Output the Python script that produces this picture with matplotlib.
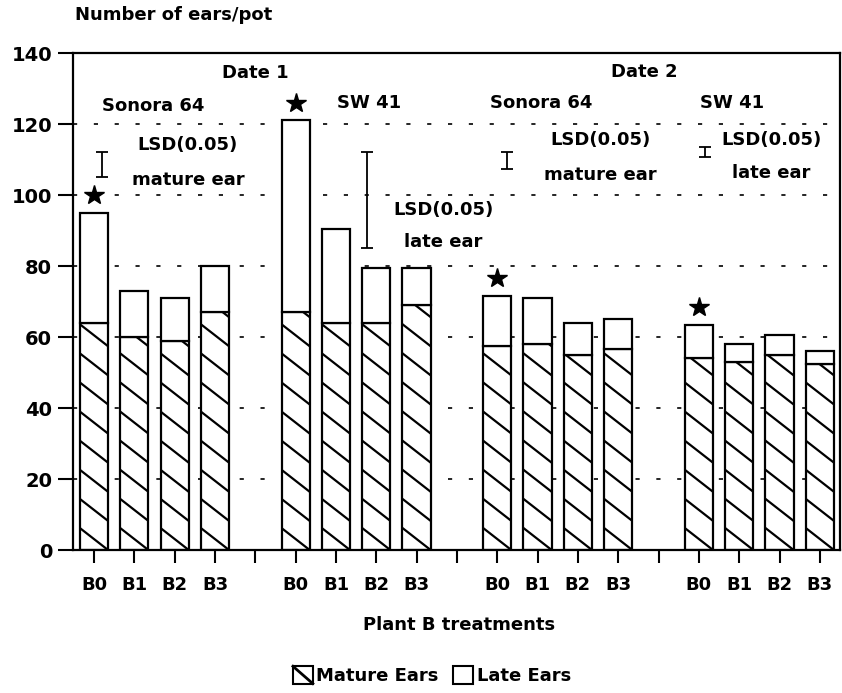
import numpy as np
import matplotlib.pyplot as plt
from matplotlib.lines import Line2D
from matplotlib.patches import Patch, Rectangle
from matplotlib.legend_handler import HandlerBase

plt.rcParams["font.family"] = ["DejaVu Sans"]
plt.rcParams["font.weight"] = "bold"

# ears per pot, mature (hatched) and late (open) stacked on top
treatments = ["B0", "B1", "B2", "B3"]
mature_d1_sonora = [64, 60, 59, 67]
mature_d1_sw41 = [67, 64, 64, 69]
mature_d2_sonora = [57.5, 58, 55, 56.5]
mature_d2_sw41 = [54, 53, 55, 52.5]
late_d1_sonora = [31, 13, 12, 13]
late_d1_sw41 = [54, 26.5, 15.5, 10.5]
late_d2_sonora = [14, 13, 9, 8.5]
late_d2_sw41 = [9.5, 5, 5.5, 3.5]

# LSD(0.05) bars: value and the top of each bar
lsd_values = [7, 27, 4.6, 2.8]
lsd_tops = [112, 112, 112, 113.5]
lsd_x = [0.2, 6.77, 10.25, 15.14]

group_start = [0, 5, 10, 15]
star_bars = [0, 4, 8, 12]   # B0 of each cultivar/date
bar_w = 0.7

mature = np.concatenate([mature_d1_sonora, mature_d1_sw41, mature_d2_sonora, mature_d2_sw41])
late = np.concatenate([late_d1_sonora, late_d1_sw41, late_d2_sonora, late_d2_sw41])
xpos = np.concatenate([np.arange(4) + g for g in group_start])

fig = plt.figure(figsize=(8.42, 6.93), dpi=100)
ax = fig.add_axes([0.0867, 0.2063, 0.911, 0.7172])

ax.set_axisbelow(True)
ax.yaxis.grid(True, color="black", linewidth=1.2, linestyle=(0, (2.5, 10)))

mat_bars = ax.bar(xpos, mature, bar_w, color="white", edgecolor="black", linewidth=1.6, zorder=2)
ax.bar(xpos, late, bar_w, bottom=mature, color="white", edgecolor="black", linewidth=1.6, zorder=2)

# sparse diagonal hatching inside the mature part
spacing, drop = 8.2, 6.2
for rect in mat_bars.patches:
    x0 = rect.get_x()
    x1 = x0 + rect.get_width()
    h = rect.get_height()
    for k in range(int(h / spacing) + 2):
        y = k * spacing
        ln = Line2D([x0, x1], [y + drop, y], color="black", linewidth=1.6, zorder=3)
        ax.add_line(ln)
        ln.set_clip_path(rect)

# significance stars above B0
tops = mature + late
for i in star_bars:
    ax.plot(xpos[i], tops[i] + 5, marker="*", markersize=15, color="black", zorder=4)

for x, top, v in zip(lsd_x, lsd_tops, lsd_values):
    ax.errorbar(x, top - v / 2, yerr=v / 2, fmt="none", ecolor="black",
                elinewidth=1.3, capsize=4, capthick=1.3, zorder=4)

fs = 13
ax.text(4, 134.4, "Date 1", ha="center", va="center", fontsize=fs)
ax.text(13.65, 134.6, "Date 2", ha="center", va="center", fontsize=fs)
ax.text(1.46, 125, "Sonora 64", ha="center", va="center", fontsize=fs)
ax.text(6.82, 126, "SW 41", ha="center", va="center", fontsize=fs)
ax.text(11.1, 126, "Sonora 64", ha="center", va="center", fontsize=fs)
ax.text(15.83, 126, "SW 41", ha="center", va="center", fontsize=fs)

ax.text(2.33, 114, "LSD(0.05)", ha="center", va="center", fontsize=fs)
ax.text(2.33, 104.2, "mature ear", ha="center", va="center", fontsize=fs)
ax.text(8.66, 95.8, "LSD(0.05)", ha="center", va="center", fontsize=fs)
ax.text(8.66, 86.8, "late ear", ha="center", va="center", fontsize=fs)
ax.text(12.56, 115.5, "LSD(0.05)", ha="center", va="center", fontsize=fs)
ax.text(12.56, 105.6, "mature ear", ha="center", va="center", fontsize=fs)
ax.text(16.8, 115.5, "LSD(0.05)", ha="center", va="center", fontsize=fs)
ax.text(16.8, 106.2, "late ear", ha="center", va="center", fontsize=fs)

ax.set_xlim(-0.52, 18.5)
ax.set_ylim(0, 140)
ax.set_yticks(range(0, 141, 20))
ax.set_xticks(xpos)
ax.set_xticklabels(treatments * 4)
ax.set_xticks([4, 9, 14], minor=True)
ax.tick_params(axis="y", direction="out", length=11, width=1.5, labelsize=14, pad=4)
ax.tick_params(axis="x", which="both", direction="out", length=9, width=1.5,
               labelsize=fs, pad=10)
for s in ax.spines.values():
    s.set_linewidth(1.6)

fig.text(0.089, 0.978, "Number of ears/pot", ha="left", va="center", fontsize=fs)
fig.text(0.545, 0.098, "Plant B treatments", ha="center", va="center", fontsize=fs)


class BoxHandler(HandlerBase):
    def create_artists(self, legend, orig_handle, xdescent, ydescent,
                       width, height, fontsize, trans):
        x0, y0 = -xdescent, -ydescent
        box = Rectangle((x0, y0), width, height, facecolor="white",
                        edgecolor="black", linewidth=1.5, transform=trans)
        arts = [box]
        if orig_handle.get_hatch():
            arts.append(Line2D([x0, x0 + width], [y0 + height, y0], color="black",
                               linewidth=2, transform=trans))
        return arts


handles = [Patch(facecolor="white", edgecolor="black", hatch="\\"),
           Patch(facecolor="white", edgecolor="black")]
fig.legend(handles, ["Mature Ears", "Late Ears"], loc="center",
           bbox_to_anchor=(0.513, 0.025), ncol=2, frameon=False, fontsize=fs,
           handler_map={Patch: BoxHandler()}, handlelength=1.1, handleheight=1.1,
           handletextpad=0.2, columnspacing=0.8)

fig.savefig("out.png", dpi=100, facecolor="white")
